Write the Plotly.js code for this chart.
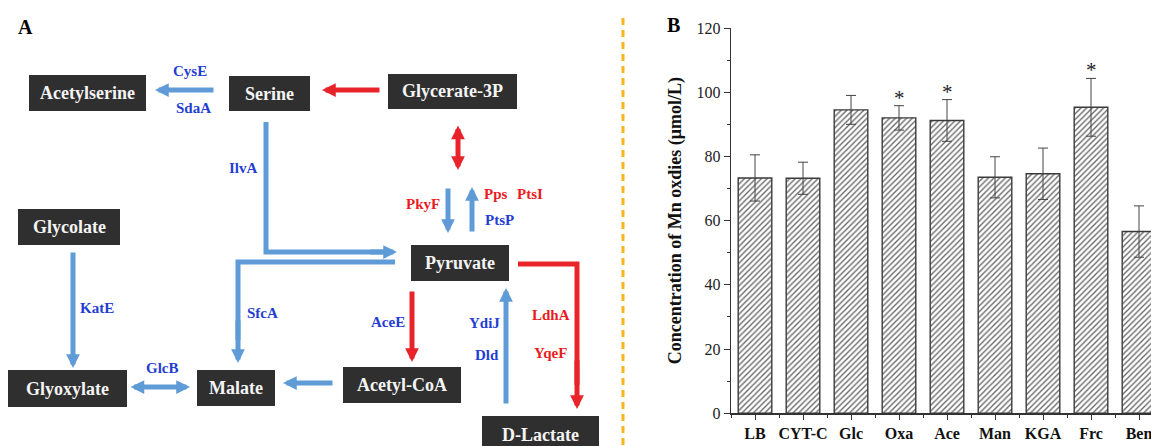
<!DOCTYPE html>
<html><head><meta charset="utf-8">
<script src="https://cdn.plot.ly/plotly-3.0.1.min.js"></script>
<style>html,body{margin:0;padding:0;background:#fff;} #chart{width:1151px;height:446px;}</style>
</head><body><div id="chart"></div>
<script>
// ---- Panel B data ----
const categories = ['LB','CYT-C','Glc','Oxa','Ace','Man','KGA','Frc','Ben'];
const means = [73.3, 73.2, 94.5, 92.0, 91.2, 73.5, 74.6, 95.3, 56.6];
const errors = [7.2, 5.0, 4.5, 3.8, 6.5, 6.4, 8.0, 9.0, 8.0];
const significant = [false, false, false, true, true, false, false, true, false];
const yTickVals = [0, 20, 40, 60, 80, 100, 120];
const yTitle = 'Concentration of Mn oxdies (μmol/L)';

// ---- Panel A content ----
const metabolites = ['Acetylserine','Serine','Glycerate-3P','Glycolate','Glyoxylate','Malate','Pyruvate','Acetyl-CoA','D-Lactate'];
const enzymesBlue = ['CysE','SdaA','IlvA','PtsP','KatE','SfcA','GlcB','AceE','YdiJ','Dld'];
const enzymesRed = ['PkyF','Pps','PtsI','LdhA','YqeF'];

const W = 1151, H = 446;
const px = x => x / W, py = y => 1 - y / H;
const SERIF = 'Liberation Serif, Times New Roman, serif';
const BLUE_LINE = '#5f9bd6', RED_LINE = '#e8242a', BLUE_TXT = '#1f3ed3', RED_TXT = '#ea1c22';
const BOX = '#2f2f2f';

const shapes = [];
const annotations = [];

// metabolite boxes [x0,x1,y0,y1]
const boxGeom = [[29,146,75,111],[229,310,76,111],[388,517,74,109],[18,120,209,245],[8,127,370,407],[197,275,370,406],[411,509,245,281],[343,461,367,403],[482,599,416,454]];
metabolites.forEach((m, i) => {
  const [x0,x1,y0,y1] = boxGeom[i];
  shapes.push({type:'rect', xref:'paper', yref:'paper', x0:px(x0), x1:px(x1), y0:py(y1), y1:py(y0), fillcolor:BOX, line:{width:0}, layer:'above'});
  const ty = i === 8 ? 435 : (y0 + y1) / 2;
  annotations.push({xref:'paper', yref:'paper', x:px((x0+x1)/2), y:py(ty), text:'<b>'+m+'</b>', showarrow:false,
    xanchor:'center', yanchor:'middle', font:{family:SERIF, size:18, color:'#f4f4f4'}});
});

function arrow(tail, tip, color, both) {
  const a = {xref:'paper', yref:'paper', x:px(tip[0]), y:py(tip[1]), ax:tail[0]-tip[0], ay:tail[1]-tip[1],
    text:'', showarrow:true, arrowhead:2, arrowsize:0.55, arrowwidth:5, arrowcolor:color, standoff:0, startstandoff:0,
    font:{size:1}, borderpad:0};
  if (both) { a.arrowside = 'end+start'; a.startarrowhead = 2; a.startarrowsize = 0.55; }
  annotations.push(a);
}
function path(d, color) {
  shapes.push({type:'path', xref:'paper', yref:'paper', path:d, line:{color:color, width:5}, layer:'above'});
}
function P(x, y) { return px(x) + ',' + py(y); }
function label(t, x, y, color) {
  annotations.push({xref:'paper', yref:'paper', x:px(x), y:py(y), text:'<b>'+t+'</b>', showarrow:false,
    xanchor:'center', yanchor:'middle', font:{family:SERIF, size:15, color:color}});
}

// arrows
arrow([214,90],[155,90],BLUE_LINE);
arrow([380,90],[322,90],RED_LINE);
arrow([458,125],[458,170],RED_LINE,true);
arrow([448,188],[448,233],BLUE_LINE);
arrow([472,232],[472,187],BLUE_LINE);
path('M'+P(266,122)+' L'+P(266,252)+' L'+P(385,252), BLUE_LINE);
arrow([370,252],[397,252],BLUE_LINE);
path('M'+P(395,262)+' L'+P(238,262)+' L'+P(238,340), BLUE_LINE);
arrow([238,320],[238,363],BLUE_LINE);
arrow([73,252],[73,368],BLUE_LINE);
arrow([130,387],[190,387],BLUE_LINE,true);
arrow([333,383],[283,383],BLUE_LINE);
arrow([412,291],[412,362],RED_LINE);
arrow([506,404],[506,288],BLUE_LINE);
path('M'+P(518,264)+' L'+P(577,264)+' L'+P(577,385), RED_LINE);
arrow([577,360],[577,409],RED_LINE);

// enzyme labels
label(enzymesBlue[0],190,71,BLUE_TXT);
label(enzymesBlue[1],193,108,BLUE_TXT);
label(enzymesBlue[2],243,168,BLUE_TXT);
label(enzymesBlue[3],499,220,BLUE_TXT);
label(enzymesBlue[4],97,308,BLUE_TXT);
label(enzymesBlue[5],262,313,BLUE_TXT);
label(enzymesBlue[6],162,368,BLUE_TXT);
label(enzymesBlue[7],388,322,BLUE_TXT);
label(enzymesBlue[8],484,323,BLUE_TXT);
label(enzymesBlue[9],487,355,BLUE_TXT);
label(enzymesRed[0],423,204,RED_TXT);
label(enzymesRed[1],496,194,RED_TXT);
label(enzymesRed[2],530,194,RED_TXT);
label(enzymesRed[3],551,315,RED_TXT);
label(enzymesRed[4],550,353,RED_TXT);

// panel letters
annotations.push({xref:'paper', yref:'paper', x:px(25), y:py(27), text:'<b>A</b>', showarrow:false, xanchor:'center', yanchor:'middle', font:{family:SERIF, size:20, color:'#000'}});
annotations.push({xref:'paper', yref:'paper', x:px(673), y:py(25), text:'<b>B</b>', showarrow:false, xanchor:'center', yanchor:'middle', font:{family:SERIF, size:20, color:'#000'}});

// dashed separator
shapes.push({type:'line', xref:'paper', yref:'paper', x0:px(623), x1:px(623), y0:py(18), y1:0, line:{color:'#f5b51c', width:3, dash:'7px,5px'}});

// significance stars
const xIdx = categories.map((_, i) => i);
categories.forEach((c, i) => {
  if (significant[i]) annotations.push({xref:'x', yref:'y', x:xIdx[i], y:means[i]+errors[i], text:'*', showarrow:false,
    xanchor:'center', yanchor:'bottom', yshift:-6, font:{family:SERIF, size:21, color:'#222'}});
});

const trace = {
  type:'bar', x:xIdx, y:means, width:0.7,
  marker:{color:'white', line:{color:'#3a3a3a', width:1.4}, pattern:{shape:'/', fgcolor:'#6a6a6a', bgcolor:'white', size:4, solidity:0.35}},
  error_y:{type:'data', array:errors, visible:true, color:'#444', thickness:1, width:5},
  hoverinfo:'skip'
};

const layout = {
  width:W, height:H, margin:{l:0, r:0, t:0, b:0}, paper_bgcolor:'white', plot_bgcolor:'white', showlegend:false,
  xaxis:{domain:[731/W, 1], range:[-0.5, 8.25], tickmode:'array', tickvals:xIdx, ticktext:categories.map(c=>'<b>'+c+'</b>'),
    showgrid:false, zeroline:false, showline:true, linecolor:'#333', linewidth:1.3, ticks:'outside', ticklen:5, tickcolor:'#333',
    tickfont:{family:SERIF, size:16, color:'#111'}, ticklabeloverflow:'allow',
    minor:{tickmode:'linear', tick0:0.5, dtick:1, ticks:'outside', ticklen:3, tickcolor:'#333'}},
  yaxis:{domain:[1-413.3/H, 1-28/H], range:[0,120], tickmode:'array', tickvals:yTickVals,
    showgrid:false, zeroline:false, showline:true, linecolor:'#333', linewidth:1.3, ticks:'outside', ticklen:6, tickcolor:'#333',
    tickfont:{family:SERIF, size:16, color:'#222'},
    minor:{tickmode:'linear', tick0:0, dtick:10, ticks:'outside', ticklen:3, tickcolor:'#333'},
    title:{text:'<b>'+yTitle+'</b>', font:{family:SERIF, size:18, color:'#111'}, standoff:10}},
  shapes:shapes, annotations:annotations
};

Plotly.newPlot('chart', [trace], layout, {displayModeBar:false, staticPlot:true});
</script>
</body></html>
